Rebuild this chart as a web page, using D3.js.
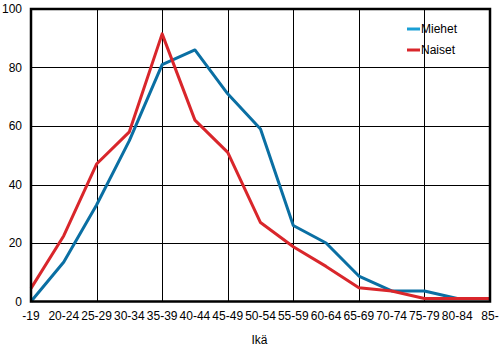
<!DOCTYPE html>
<html><head><meta charset="utf-8">
<script src="https://cdn.jsdelivr.net/npm/d3@7/dist/d3.min.js"></script>
<style>body{margin:0;background:#fff}svg{display:block}text{font-family:"Liberation Sans",Arial,sans-serif;font-size:12px;fill:#000}</style>
</head><body><svg id="c" width="499" height="347"></svg>
<script>
const categories = ["-19","20-24","25-29","30-34","35-39","40-44","45-49","50-54","55-59","60-64","65-69","70-74","75-79","80-84","85-"];
const miehet = [0,13.5,33,55,81,86,71,59,26,20,8.7,3.6,3.6,1,null];
const naiset = [4.5,22.5,47,58,91.5,62,51,27,18.7,12,4.7,3.6,1,1,1];
const yTicks = [0,20,40,60,80,100];
const seriesNames = ["Miehet","Naiset"];
const colors = ["#0a6fa3","#d9262b"];
const legendColors = ["#1a9fd4","#d9262b"];

const svg = d3.select("#c");
const L=31,R=490,T=9,B=301.5;
const x = d3.scalePoint().domain(categories).range([L,R]);
const y = d3.scaleLinear().domain([0,100]).range([B,T]);

// grid
const g = svg.append("g");
g.selectAll("line.h").data(yTicks.filter(v=>v>0&&v<100)).enter().append("line")
 .attr("x1",L).attr("x2",R).attr("y1",d=>Math.round(y(d))+0.5).attr("y2",d=>Math.round(y(d))+0.5)
 .attr("stroke","#000").attr("stroke-width",1);
g.selectAll("line.v").data(categories.filter((c,i)=>i%2===0&&i>0&&i<categories.length-1)).enter().append("line")
 .attr("y1",T).attr("y2",B).attr("x1",d=>Math.round(x(d))+0.5).attr("x2",d=>Math.round(x(d))+0.5)
 .attr("stroke","#000").attr("stroke-width",1);

// lines
const line = d3.line().defined(d=>d.v!=null).x(d=>x(d.c)).y(d=>y(d.v));
[miehet,naiset].forEach((s,i)=>{
  svg.append("path").datum(s.map((v,j)=>({c:categories[j],v})))
   .attr("d",line).attr("fill","none").attr("stroke",colors[i]).attr("stroke-width",3).attr("stroke-linejoin","round");
});

// frame
svg.append("rect").attr("x",L).attr("y",T).attr("width",R-L).attr("height",B-T)
 .attr("fill","none").attr("stroke","#000").attr("stroke-width",2.5);

// y axis labels
svg.selectAll("text.y").data(yTicks).enter().append("text")
 .attr("x",22).attr("y",d=>y(d)).attr("dy","0.35em").attr("text-anchor","end").text(d=>d);
// x axis labels
svg.selectAll("text.x").data(categories).enter().append("text")
 .attr("x",d=>x(d)).attr("y",316).attr("dy","0.35em").attr("text-anchor","middle").text(d=>d);
svg.append("text").attr("x",(L+R)/2-1).attr("y",340).attr("dy","0.35em").attr("text-anchor","middle").text("Ikä");

// legend
seriesNames.forEach((n,i)=>{
  const yy = 29 + i*21;
  svg.append("line").attr("x1",407).attr("x2",420).attr("y1",yy).attr("y2",yy).attr("stroke",legendColors[i]).attr("stroke-width",3);
  svg.append("text").attr("x",421).attr("y",yy).attr("dy","0.35em").text(n);
});
</script></body></html>
